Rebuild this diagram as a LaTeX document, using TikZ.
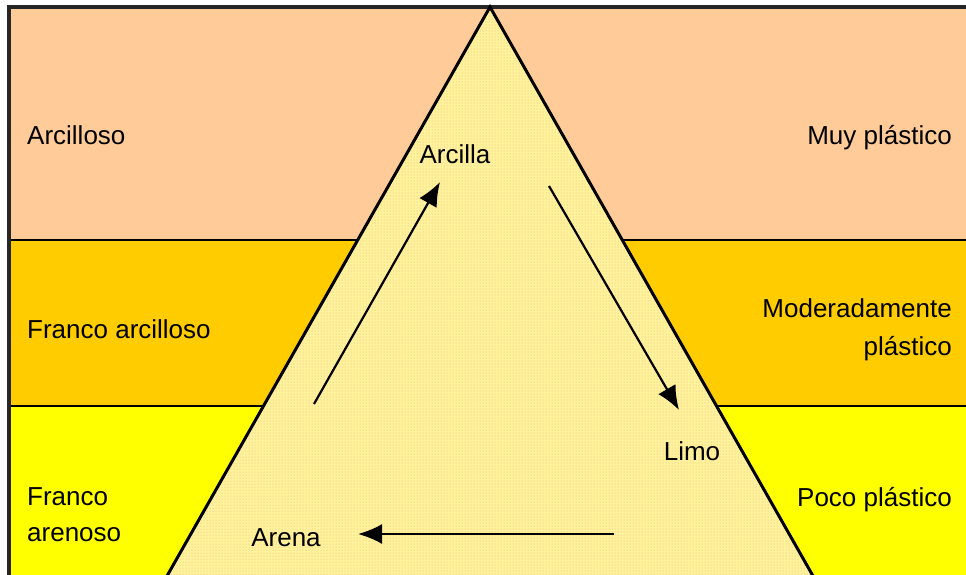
\documentclass[tikz,border=0pt]{standalone}
\usepackage{fontspec}
\setmainfont{Liberation Sans}
\usepackage{tikz}
\usetikzlibrary{arrows.meta,patterns}
\definecolor{peach}{RGB}{255,204,153}
\definecolor{amber}{RGB}{255,204,0}
\definecolor{lemon}{RGB}{255,255,0}
\definecolor{sandfill}{RGB}{255,243,155}
\definecolor{sanddot}{RGB}{250,170,130}

\begin{document}
\begin{tikzpicture}[x=1pt, y=-1pt, every node/.style={font=\fontsize{26}{36}\selectfont, inner sep=0pt},
  band/.style={draw=black, line width=2.2pt},
  flow/.style={-{Latex[length=24pt,width=20pt]}, line width=2.2pt}]
  \useasboundingbox (0,0) rectangle (966,574);
  \clip (0,0) rectangle (966,574);
  % bands
  \fill[peach] (9,7) rectangle (980,240);
  \fill[amber] (9,240) rectangle (980,406);
  \fill[lemon] (9,406) rectangle (980,590);
  \draw[band] (9,240) -- (980,240);
  \draw[band] (9,406) -- (980,406);
  \draw[line width=3.2pt, black!85] (9,590) -- (9,7) -- (980,7);
  % triangle
  \coordinate (apex) at (490,7);
  \coordinate (leftfoot) at (163,583);
  \coordinate (rightfoot) at (817,583);
  \fill[sandfill] (apex) -- (leftfoot) -- (rightfoot) -- cycle;
  \fill[pattern=dots, pattern color=sanddot] (apex) -- (leftfoot) -- (rightfoot) -- cycle;
  \draw[line width=3pt, line join=miter] (leftfoot) -- (apex) -- (rightfoot);
  % left labels
  \node[anchor=base west] (arcilloso) at (27,144) {Arcilloso};
  \node[anchor=base west] (francoarc) at (27,338) {Franco arcilloso};
  \node[anchor=north west, align=left] (francoare) at (27,487) {Franco\\arenoso};
  % right labels
  \node[anchor=base east] (muy) at (952,144) {Muy plástico};
  \node[anchor=north east, align=right, font=\fontsize{26}{38}\selectfont] (moderado) at (952,298) {Moderadamente\\plástico};
  \node[anchor=base east] (poco) at (952,506) {Poco plástico};
  % corners
  \node[anchor=base] (arcilla) at (455,163) {Arcilla};
  \node[anchor=base] (limo) at (692,460) {Limo};
  \node[anchor=base] (arena) at (286,546) {Arena};
  % arrows
  \coordinate (a1) at (314,404);
  \coordinate (a2) at (440,182);
  \coordinate (b1) at (549,186);
  \coordinate (b2) at (679,410);
  \coordinate (c1) at (614,534);
  \coordinate (c2) at (358,534);
  \draw[flow] (a1) -- (a2);
  \draw[flow] (b1) -- (b2);
  \draw[flow] (c1) -- (c2);
\end{tikzpicture}
\end{document}
